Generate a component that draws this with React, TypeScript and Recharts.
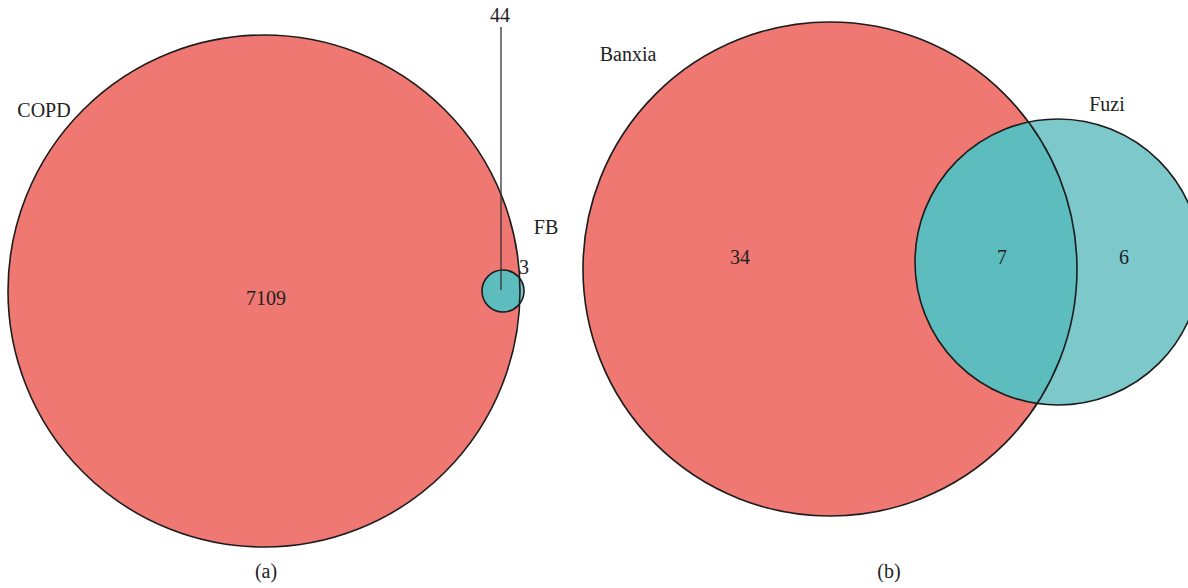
import { ScatterChart, Scatter, XAxis, YAxis } from 'recharts';

const W = 1188;
const H = 588;
// plot spans the whole svg, so 1 axis unit = 1 px
const K = 1;

// set circles: centre (x, y) and radius r in axis units
const copd = [{ name: 'COPD', x: 264, y: 291, r: 256 }];
const fb = [{ name: 'FB', x: 503, y: 291, r: 21 }];
const banxia = [{ name: 'Banxia', x: 830, y: 269, r: 247 }];
const fuzi = [{ name: 'Fuzi', x: 1058, y: 262, r: 143 }];

// intersections: circle b clipped by circle a
const overlaps = [
    { id: 'ov-a', x: fb[0].x, y: fb[0].y, r: fb[0].r, ax: copd[0].x, ay: copd[0].y, ar: copd[0].r },
    { id: 'ov-b', x: fuzi[0].x, y: fuzi[0].y, r: fuzi[0].r, ax: banxia[0].x, ay: banxia[0].y, ar: banxia[0].r },
];

// leader from the COPD∩FB region up to its count
const leaders = [{ x: 501, y: 290, top: 27 }];

// set names
const setLabels = [
    { text: 'COPD', x: 44, y: 117 },
    { text: 'FB', x: 546, y: 234 },
    { text: 'Banxia', x: 628, y: 61 },
    { text: 'Fuzi', x: 1107, y: 111 },
];

// region counts
const counts = [
    { text: '7109', x: 266, y: 305 },
    { text: '44', x: 500, y: 22 },
    { text: '3', x: 524, y: 274 },
    { text: '34', x: 740, y: 264 },
    { text: '7', x: 1002, y: 264 },
    { text: '6', x: 1124, y: 264 },
];

const panelLabels = [
    { text: '(a)', x: 266, y: 578 },
    { text: '(b)', x: 889, y: 578 },
];

const RED = '#ef7873';
const TEAL = '#7cc8cb';
const OVERLAP = '#5dbdbe';
const EDGE = '#1c1c1c';
const FONT = "'Liberation Serif', 'DejaVu Serif', serif";

const fillCircle = (fill: string) => (props: any) => {
    const { cx, cy, payload } = props;
    return <circle cx={cx} cy={cy} r={payload.r * K} fill={fill} stroke="none" />;
};

const outlineCircle = (props: any) => {
    const { cx, cy, payload } = props;
    return <circle cx={cx} cy={cy} r={payload.r * K} fill="none" stroke={EDGE} strokeWidth={1.6} />;
};

const overlapShape = (props: any) => {
    const { cx, cy, payload } = props;
    const clipId = `clip-${payload.id}`;
    return (
        <g>
            <defs>
                <clipPath id={clipId}>
                    <circle
                        cx={cx + (payload.ax - payload.x) * K}
                        cy={cy + (payload.ay - payload.y) * K}
                        r={payload.ar * K}
                    />
                </clipPath>
            </defs>
            <circle cx={cx} cy={cy} r={payload.r * K} fill={OVERLAP} clipPath={`url(#${clipId})`} />
        </g>
    );
};

const leaderShape = (props: any) => {
    const { cx, cy, payload } = props;
    return <line x1={cx} y1={cy} x2={cx} y2={cy + (payload.top - payload.y) * K} stroke="#333" strokeWidth={1.3} />;
};

const textShape = (props: any) => {
    const { cx, cy, payload } = props;
    return (
        <text x={cx} y={cy} textAnchor="middle" fontFamily={FONT} fontSize={20} fill="#222">
            {payload.text}
        </text>
    );
};

export default function App() {
    return (
        <div style={{ position: 'absolute', left: 0, top: 0, width: W, height: H, background: '#fff' }}>
            <ScatterChart width={W} height={H} margin={{ top: 0, right: 0, bottom: 0, left: 0 }}>
                <XAxis type="number" dataKey="x" domain={[0, W]} hide allowDataOverflow />
                <YAxis type="number" dataKey="y" domain={[0, H]} reversed hide allowDataOverflow />
                <Scatter data={copd} shape={fillCircle(RED)} isAnimationActive={false} />
                <Scatter data={banxia} shape={fillCircle(RED)} isAnimationActive={false} />
                <Scatter data={fb} shape={fillCircle(TEAL)} isAnimationActive={false} />
                <Scatter data={fuzi} shape={fillCircle(TEAL)} isAnimationActive={false} />
                <Scatter data={overlaps} shape={overlapShape} isAnimationActive={false} />
                <Scatter data={[...copd, ...fb, ...banxia, ...fuzi]} shape={outlineCircle} isAnimationActive={false} />
                <Scatter data={leaders} shape={leaderShape} isAnimationActive={false} />
                <Scatter data={setLabels} shape={textShape} isAnimationActive={false} />
                <Scatter data={counts} shape={textShape} isAnimationActive={false} />
                <Scatter data={panelLabels} shape={textShape} isAnimationActive={false} />
            </ScatterChart>
        </div>
    );
}
